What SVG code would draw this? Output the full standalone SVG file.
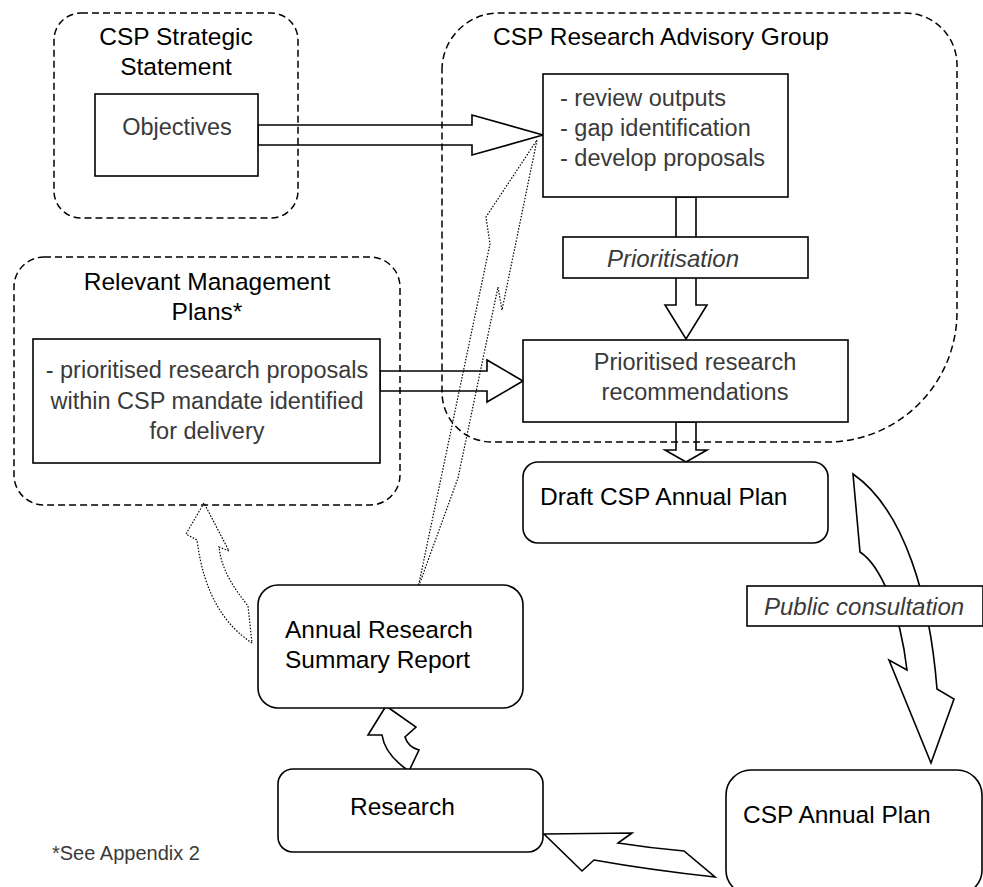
<svg xmlns="http://www.w3.org/2000/svg" width="983" height="887" viewBox="0 0 983 887">
<style>
.bg{fill:#fff}
.box{fill:#fff;stroke:#000;stroke-width:1.6}
.cont{fill:none;stroke:#000;stroke-width:1.5;stroke-dasharray:7,4}
.arr{fill:#fff;stroke:#000;stroke-width:1.6;stroke-linejoin:miter}
.dot{fill:none;stroke:#000;stroke-width:1.2;stroke-dasharray:1.5,1.6}
.t{font-family:"Liberation Sans",Arial,sans-serif;font-size:24.5px;fill:#000}
.b{font-family:"Liberation Sans",Arial,sans-serif;font-size:23.5px;fill:#3a3a3a}
.i{font-family:"Liberation Sans",Arial,sans-serif;font-size:24px;font-style:italic;fill:#3a3a3a}
.m{text-anchor:middle}
</style>
<rect class="bg" x="0" y="0" width="983" height="887"/>
<g id="connectors">
  <path class="arr" d="M258,125 L472,125 L472,115 L543,135 L472,155 L472,145 L258,145 Z"/>
  <path class="arr" d="M380,371 L487,371 L487,360 L523,381 L487,402 L487,391 L380,391 Z"/>
  <path class="arr" d="M676,197 L676,305 L665,305 L686,339 L707,305 L696,305 L696,197 Z"/>
  <path class="arr" d="M676,422 L676,450 L665,450 L686,462 L707,450 L696,450 L696,422 Z"/>
  <path class="arr" d="M853,474 L860,552 C880,565 900,610 907,670 L889,660 L931,763 L954,699 L937,689 C930,600 905,510 853,474 Z"/>
  <path class="arr" d="M544,834 L632,833 L618,843 Q650,848 684,851 L715,877 Q650,870 594,860 L582,871 Z"/>
  <path class="arr" d="M409,771 Q385,755 382,735 L368,735 L386,706 L416,727 L405,737 Q408,747 419,750 Z"/>
  <g id="label-prioritisation">
    <rect class="box" x="563" y="237" width="245" height="41"/>
    <text class="i m" x="673" y="267">Prioritisation</text>
  </g>
  <g id="label-public-consultation">
    <rect class="box" x="747" y="586" width="236" height="40"/>
    <text class="i" x="764" y="615">Public consultation</text>
  </g>
  <path class="dot" d="M418,588 L490,244 L486,217 L537,140 L502,310 L498,287 L458,478 Z"/>
  <path class="dot" d="M252,643 C225,625 204,595 197,540 L186,534 L204,503 L229,551 L219,547 C222,575 240,595 248,606 L252,643 Z"/>
</g>
<g id="strategic-statement">
  <rect class="cont" x="54" y="13" width="244" height="205" rx="27"/>
  <text class="t m" x="176" y="45">CSP Strategic</text>
  <text class="t m" x="176" y="75">Statement</text>
</g>
<g id="objectives">
  <rect class="box" x="95" y="94" width="163" height="82"/>
  <text class="b m" x="177" y="135">Objectives</text>
</g>
<g id="research-advisory-group">
  <path class="cont" d="M442,70 A57,57 0 0 1 499,13 L905,13 A52,52 0 0 1 957,65 L957,312 A130,130 0 0 1 827,442 L492,442 A50,50 0 0 1 442,392 Z"/>
  <text class="t m" x="661" y="45">CSP Research Advisory Group</text>
</g>
<g id="review">
  <rect class="box" x="543" y="74" width="245" height="123"/>
  <text class="b" x="560" y="106">- review outputs</text>
  <text class="b" x="560" y="136">- gap identification</text>
  <text class="b" x="560" y="166">- develop proposals</text>
</g>
<g id="prioritised-recommendations">
  <rect class="box" x="523" y="340" width="325" height="82"/>
  <text class="b m" x="695" y="370">Prioritised research</text>
  <text class="b m" x="695" y="400">recommendations</text>
</g>
<g id="draft-plan">
  <rect class="box" x="523" y="462" width="305" height="81" rx="15"/>
  <text class="t" x="540" y="505">Draft CSP Annual Plan</text>
</g>
<g id="management-plans">
  <rect class="cont" x="14" y="257" width="386" height="248" rx="30"/>
  <text class="t m" x="207" y="290">Relevant Management</text>
  <text class="t m" x="207" y="320">Plans*</text>
</g>
<g id="prioritised-proposals">
  <rect class="box" x="33" y="339" width="347" height="124"/>
  <text class="b m" x="207" y="378">- prioritised research proposals</text>
  <text class="b m" x="207" y="409">within CSP mandate identified</text>
  <text class="b m" x="207" y="439">for delivery</text>
</g>
<g id="summary-report">
  <rect class="box" x="258" y="585" width="265" height="123" rx="20"/>
  <text class="t" x="285" y="638">Annual Research</text>
  <text class="t" x="285" y="668">Summary Report</text>
</g>
<g id="research">
  <rect class="box" x="278" y="769" width="265" height="83" rx="15"/>
  <text class="t" x="350" y="815">Research</text>
</g>
<g id="annual-plan">
  <rect class="box" x="726" y="770" width="256" height="125" rx="25"/>
  <text class="t" x="743" y="823">CSP Annual Plan</text>
</g>
<g id="footnote">
  <text class="b" x="52" y="860" style="font-size:20px">*See Appendix 2</text>
</g>
</svg>
